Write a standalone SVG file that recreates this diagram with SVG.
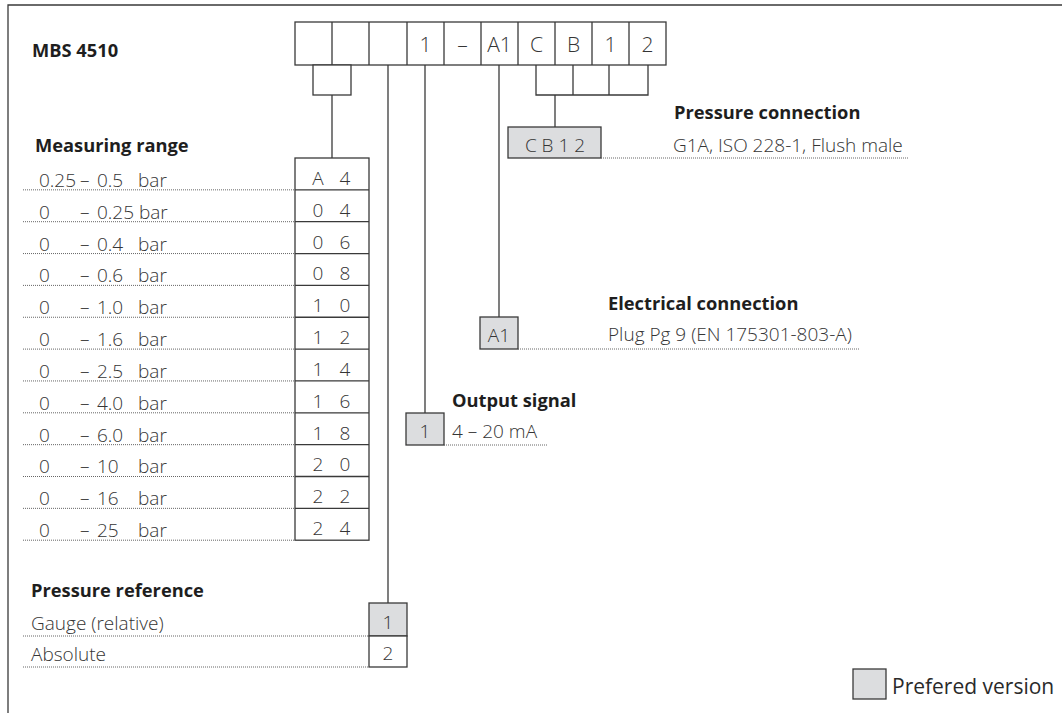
<svg xmlns="http://www.w3.org/2000/svg" width="1062" height="713" viewBox="0 0 1062 713">
<style>
.ln{stroke:#3a3a3a;stroke-width:1.3;fill:none}
.bx{stroke:#3a3a3a;stroke-width:1.3;fill:#fff}
.gb{stroke:#3a3a3a;stroke-width:1.3;fill:#dcdddf}
.dt{stroke:#555;stroke-width:0.9;stroke-dasharray:1 1;fill:none}
.h{font-family:"Open Sans","Liberation Sans",sans-serif;font-weight:bold;font-size:18.3px;fill:#1e1e1e}
.t{font-family:"Open Sans","Liberation Sans",sans-serif;font-weight:300;font-size:19px;fill:#353535}
.c{font-family:"Open Sans","Liberation Sans",sans-serif;font-weight:300;font-size:19px;fill:#353535;text-anchor:middle}
.top{font-family:"Open Sans","Liberation Sans",sans-serif;font-weight:300;font-size:21px;fill:#353535;text-anchor:middle}
</style>
<rect width="1062" height="713" fill="#fff"/>
<path class="ln" d="M8,713 V5 H1062"/>
<g id="title"><text class="h" x="32" y="57">MBS 4510</text></g>
<g id="code">
<rect class="bx" x="295" y="22" width="371" height="43"/>
<path class="ln" d="M332,22V65M369,22V65M407,22V65M444,22V65M481,22V65M518,22V65M555,22V65M592,22V65M629,22V65"/>
<text class="top" x="425.5" y="51.5">1</text>
<text class="top" x="462.5" y="51.5">–</text>
<text class="top" x="499.5" y="51.5">A1</text>
<text class="top" x="536.5" y="51.5">C</text>
<text class="top" x="573.5" y="51.5">B</text>
<text class="top" x="610.5" y="51.5">1</text>
<text class="top" x="647.5" y="51.5">2</text>
</g>
<g id="connectors">
<rect class="bx" x="313" y="65" width="38" height="30"/>
<path class="ln" d="M332,95V158"/>
<path class="ln" d="M388,65V603"/>
<path class="ln" d="M425,65V413"/>
<path class="ln" d="M499,65V317"/>
<path class="ln" d="M536,65V95H648V65M573,65V95M609,65V95"/>
<path class="ln" d="M555,95V127"/>
</g>
<g id="measuring-range">
<text class="h" x="35" y="152">Measuring range</text>
<g id="mr-rows">
<rect class="bx" x="295" y="158" width="74" height="382.2"/>
<path class="ln" d="M295,189.85H369M295,221.7H369M295,253.55H369M295,285.4H369M295,317.25H369M295,349.1H369M295,380.95H369M295,412.8H369M295,444.65H369M295,476.5H369M295,508.35H369"/>
<path class="dt" d="M23,189.85H295M23,221.7H295M23,253.55H295M23,285.4H295M23,317.25H295M23,349.1H295M23,380.95H295M23,412.8H295M23,444.65H295M23,476.5H295M23,508.35H295M23,540.2H295"/>
</g>
<g class="t">
<text x="39" y="186.5">0.25</text><text x="80" y="186.5">–</text><text x="97" y="186.5">0.5</text><text x="138" y="186.5">bar</text>
<text x="39" y="218.5">0</text><text x="80" y="218.5">–</text><text x="97" y="218.5">0.25 bar</text>
<text x="39" y="250.5">0</text><text x="80" y="250.5">–</text><text x="97" y="250.5">0.4</text><text x="138" y="250.5">bar</text>
<text x="39" y="282">0</text><text x="80" y="282">–</text><text x="97" y="282">0.6</text><text x="138" y="282">bar</text>
<text x="39" y="314">0</text><text x="80" y="314">–</text><text x="97" y="314">1.0</text><text x="138" y="314">bar</text>
<text x="39" y="346">0</text><text x="80" y="346">–</text><text x="97" y="346">1.6</text><text x="138" y="346">bar</text>
<text x="39" y="377.5">0</text><text x="80" y="377.5">–</text><text x="97" y="377.5">2.5</text><text x="138" y="377.5">bar</text>
<text x="39" y="409.5">0</text><text x="80" y="409.5">–</text><text x="97" y="409.5">4.0</text><text x="138" y="409.5">bar</text>
<text x="39" y="441.5">0</text><text x="80" y="441.5">–</text><text x="97" y="441.5">6.0</text><text x="138" y="441.5">bar</text>
<text x="39" y="473">0</text><text x="80" y="473">–</text><text x="97" y="473">10</text><text x="138" y="473">bar</text>
<text x="39" y="505">0</text><text x="80" y="505">–</text><text x="97" y="505">16</text><text x="138" y="505">bar</text>
<text x="39" y="537">0</text><text x="80" y="537">–</text><text x="97" y="537">25</text><text x="138" y="537">bar</text>
</g>
<g class="c">
<text x="318" y="184.5">A</text><text x="345" y="184.5">4</text>
<text x="318" y="216.5">0</text><text x="345" y="216.5">4</text>
<text x="318" y="248.5">0</text><text x="345" y="248.5">6</text>
<text x="318" y="280">0</text><text x="345" y="280">8</text>
<text x="318" y="312">1</text><text x="345" y="312">0</text>
<text x="318" y="344">1</text><text x="345" y="344">2</text>
<text x="318" y="375.5">1</text><text x="345" y="375.5">4</text>
<text x="318" y="407.5">1</text><text x="345" y="407.5">6</text>
<text x="318" y="439.5">1</text><text x="345" y="439.5">8</text>
<text x="318" y="471">2</text><text x="345" y="471">0</text>
<text x="318" y="503">2</text><text x="345" y="503">2</text>
<text x="318" y="535">2</text><text x="345" y="535">4</text>
</g>
</g>
<g id="pressure-reference">
<text class="h" x="31" y="597">Pressure reference</text>
<rect class="gb" x="369" y="603" width="38" height="33"/>
<rect class="bx" x="369" y="636" width="38" height="31"/>
<path class="dt" d="M23,636H369M23,667H369"/>
<text class="t" x="31" y="629.5">Gauge (relative)</text>
<text class="t" x="31" y="660.5">Absolute</text>
<text class="c" x="388" y="629">1</text>
<text class="c" x="388" y="660">2</text>
</g>
<g id="output-signal">
<rect class="gb" x="406" y="413" width="38" height="32"/>
<text class="c" x="425" y="438">1</text>
<text class="h" x="452" y="407">Output signal</text>
<text class="t" x="452" y="437.5">4 – 20 mA</text>
<path class="dt" d="M444,445H547"/>
</g>
<g id="electrical-connection">
<rect class="gb" x="480" y="317" width="38" height="32"/>
<text class="c" x="499" y="342">A1</text>
<text class="h" x="608" y="310">Electrical connection</text>
<text class="t" x="608" y="340.5">Plug Pg 9 (EN 175301-803-A)</text>
<path class="dt" d="M518,349H860"/>
</g>
<g id="pressure-connection">
<rect class="gb" x="508" y="127" width="93" height="31"/>
<text class="c" x="555" y="151.5" font-size="18">C B 1 2</text>
<text class="h" x="674" y="119">Pressure connection</text>
<text class="t" x="673" y="151.5">G1A, ISO 228-1, Flush male</text>
<path class="dt" d="M601,158H908"/>
</g>
<g id="legend">
<rect class="gb" x="853" y="669" width="33" height="30"/>
<text x="892" y="694" font-family="Open Sans, Liberation Sans, sans-serif" font-size="21" fill="#2a2a2a">Prefered version</text>
</g>
</svg>
